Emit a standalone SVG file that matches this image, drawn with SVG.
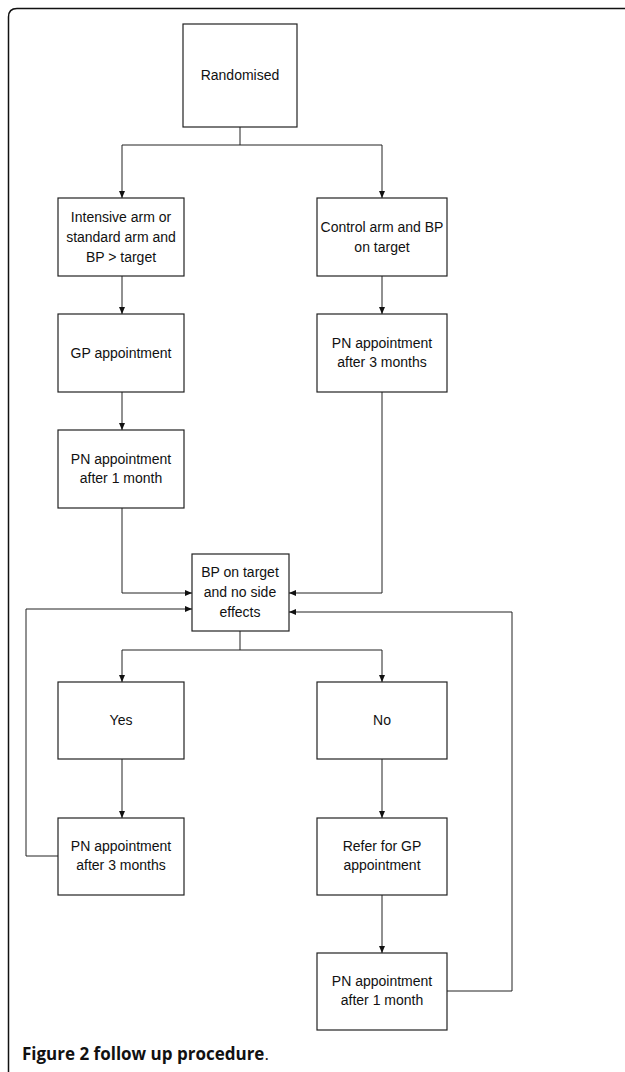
<svg xmlns="http://www.w3.org/2000/svg" width="625" height="1072" viewBox="0 0 625 1072">
<defs>
<marker id="arr" markerUnits="userSpaceOnUse" markerWidth="7" markerHeight="7" refX="7" refY="3.5" orient="auto">
<path d="M0,0.5 L7,3.5 L0,6.5 z" fill="#111"/>
</marker>
<style>
.box{fill:#fff;stroke:#222;stroke-width:1.2}
.t{font-family:"Liberation Sans",Arial,sans-serif;font-size:14px;fill:#111;text-anchor:middle}
.c{fill:none;stroke:#222;stroke-width:1}
.a{fill:none;stroke:#222;stroke-width:1;marker-end:url(#arr)}
.cap{font-family:"Open Sans","Noto Sans",sans-serif;font-size:17px;font-weight:bold;fill:#111}
</style>
</defs>
<rect width="625" height="1072" fill="#fff"/>
<path d="M8.5,1072 V17 Q8.5,8.5 17,8.5 H625" fill="none" stroke="#111" stroke-width="1.5"/>
<g id="connectors">
<path class="c" d="M240,127 V145 M122,145 H382"/>
<path class="a" d="M122,145 V198"/>
<path class="a" d="M382,145 V198"/>
<path class="a" d="M122,276 V314"/>
<path class="a" d="M382,276 V314"/>
<path class="a" d="M122,392 V430"/>
<path class="a" d="M122,508 V593 H192"/>
<path class="a" d="M382,392 V593 H289"/>
<path class="a" d="M58,856 H26 V609 H192"/>
<path class="a" d="M447,991 H512 V612 H289"/>
<path class="c" d="M240,631 V650 M122,650 H382"/>
<path class="a" d="M122,650 V682"/>
<path class="a" d="M382,650 V682"/>
<path class="a" d="M122,759 V818"/>
<path class="a" d="M382,759 V818"/>
<path class="a" d="M382,895 V953"/>
</g>
<g id="randomised"><rect class="box" x="183" y="24" width="114" height="103"/><text class="t" x="240" y="80">Randomised</text></g>
<g id="intensive"><rect class="box" x="58" y="198" width="126" height="78"/><text class="t" x="121" y="222">Intensive arm or</text><text class="t" x="121" y="242">standard arm and</text><text class="t" x="121" y="262">BP &gt; target</text></g>
<g id="control"><rect class="box" x="317" y="198" width="130" height="78"/><text class="t" x="382" y="232">Control arm and BP</text><text class="t" x="382" y="252">on target</text></g>
<g id="gp1"><rect class="box" x="58" y="314" width="126" height="78"/><text class="t" x="121" y="358">GP appointment</text></g>
<g id="pn3a"><rect class="box" x="317" y="314" width="130" height="78"/><text class="t" x="382" y="348">PN appointment</text><text class="t" x="382" y="367">after 3 months</text></g>
<g id="pn1a"><rect class="box" x="58" y="430" width="126" height="78"/><text class="t" x="121" y="464">PN appointment</text><text class="t" x="121" y="483">after 1 month</text></g>
<g id="bptarget"><rect class="box" x="192" y="554" width="97" height="77"/><text class="t" x="240" y="577">BP on target</text><text class="t" x="240" y="597">and no side</text><text class="t" x="240" y="617">effects</text></g>
<g id="yes"><rect class="box" x="58" y="682" width="126" height="77"/><text class="t" x="121" y="725">Yes</text></g>
<g id="no"><rect class="box" x="317" y="682" width="130" height="77"/><text class="t" x="382" y="725">No</text></g>
<g id="pn3b"><rect class="box" x="58" y="818" width="126" height="77"/><text class="t" x="121" y="851">PN appointment</text><text class="t" x="121" y="870">after 3 months</text></g>
<g id="refer"><rect class="box" x="317" y="818" width="130" height="77"/><text class="t" x="382" y="851">Refer for GP</text><text class="t" x="382" y="870">appointment</text></g>
<g id="pn1b"><rect class="box" x="317" y="953" width="130" height="77"/><text class="t" x="382" y="986">PN appointment</text><text class="t" x="382" y="1005">after 1 month</text></g>
<text class="cap" x="22" y="1060">Figure 2 follow up procedure<tspan font-weight="normal">.</tspan></text>
</svg>
